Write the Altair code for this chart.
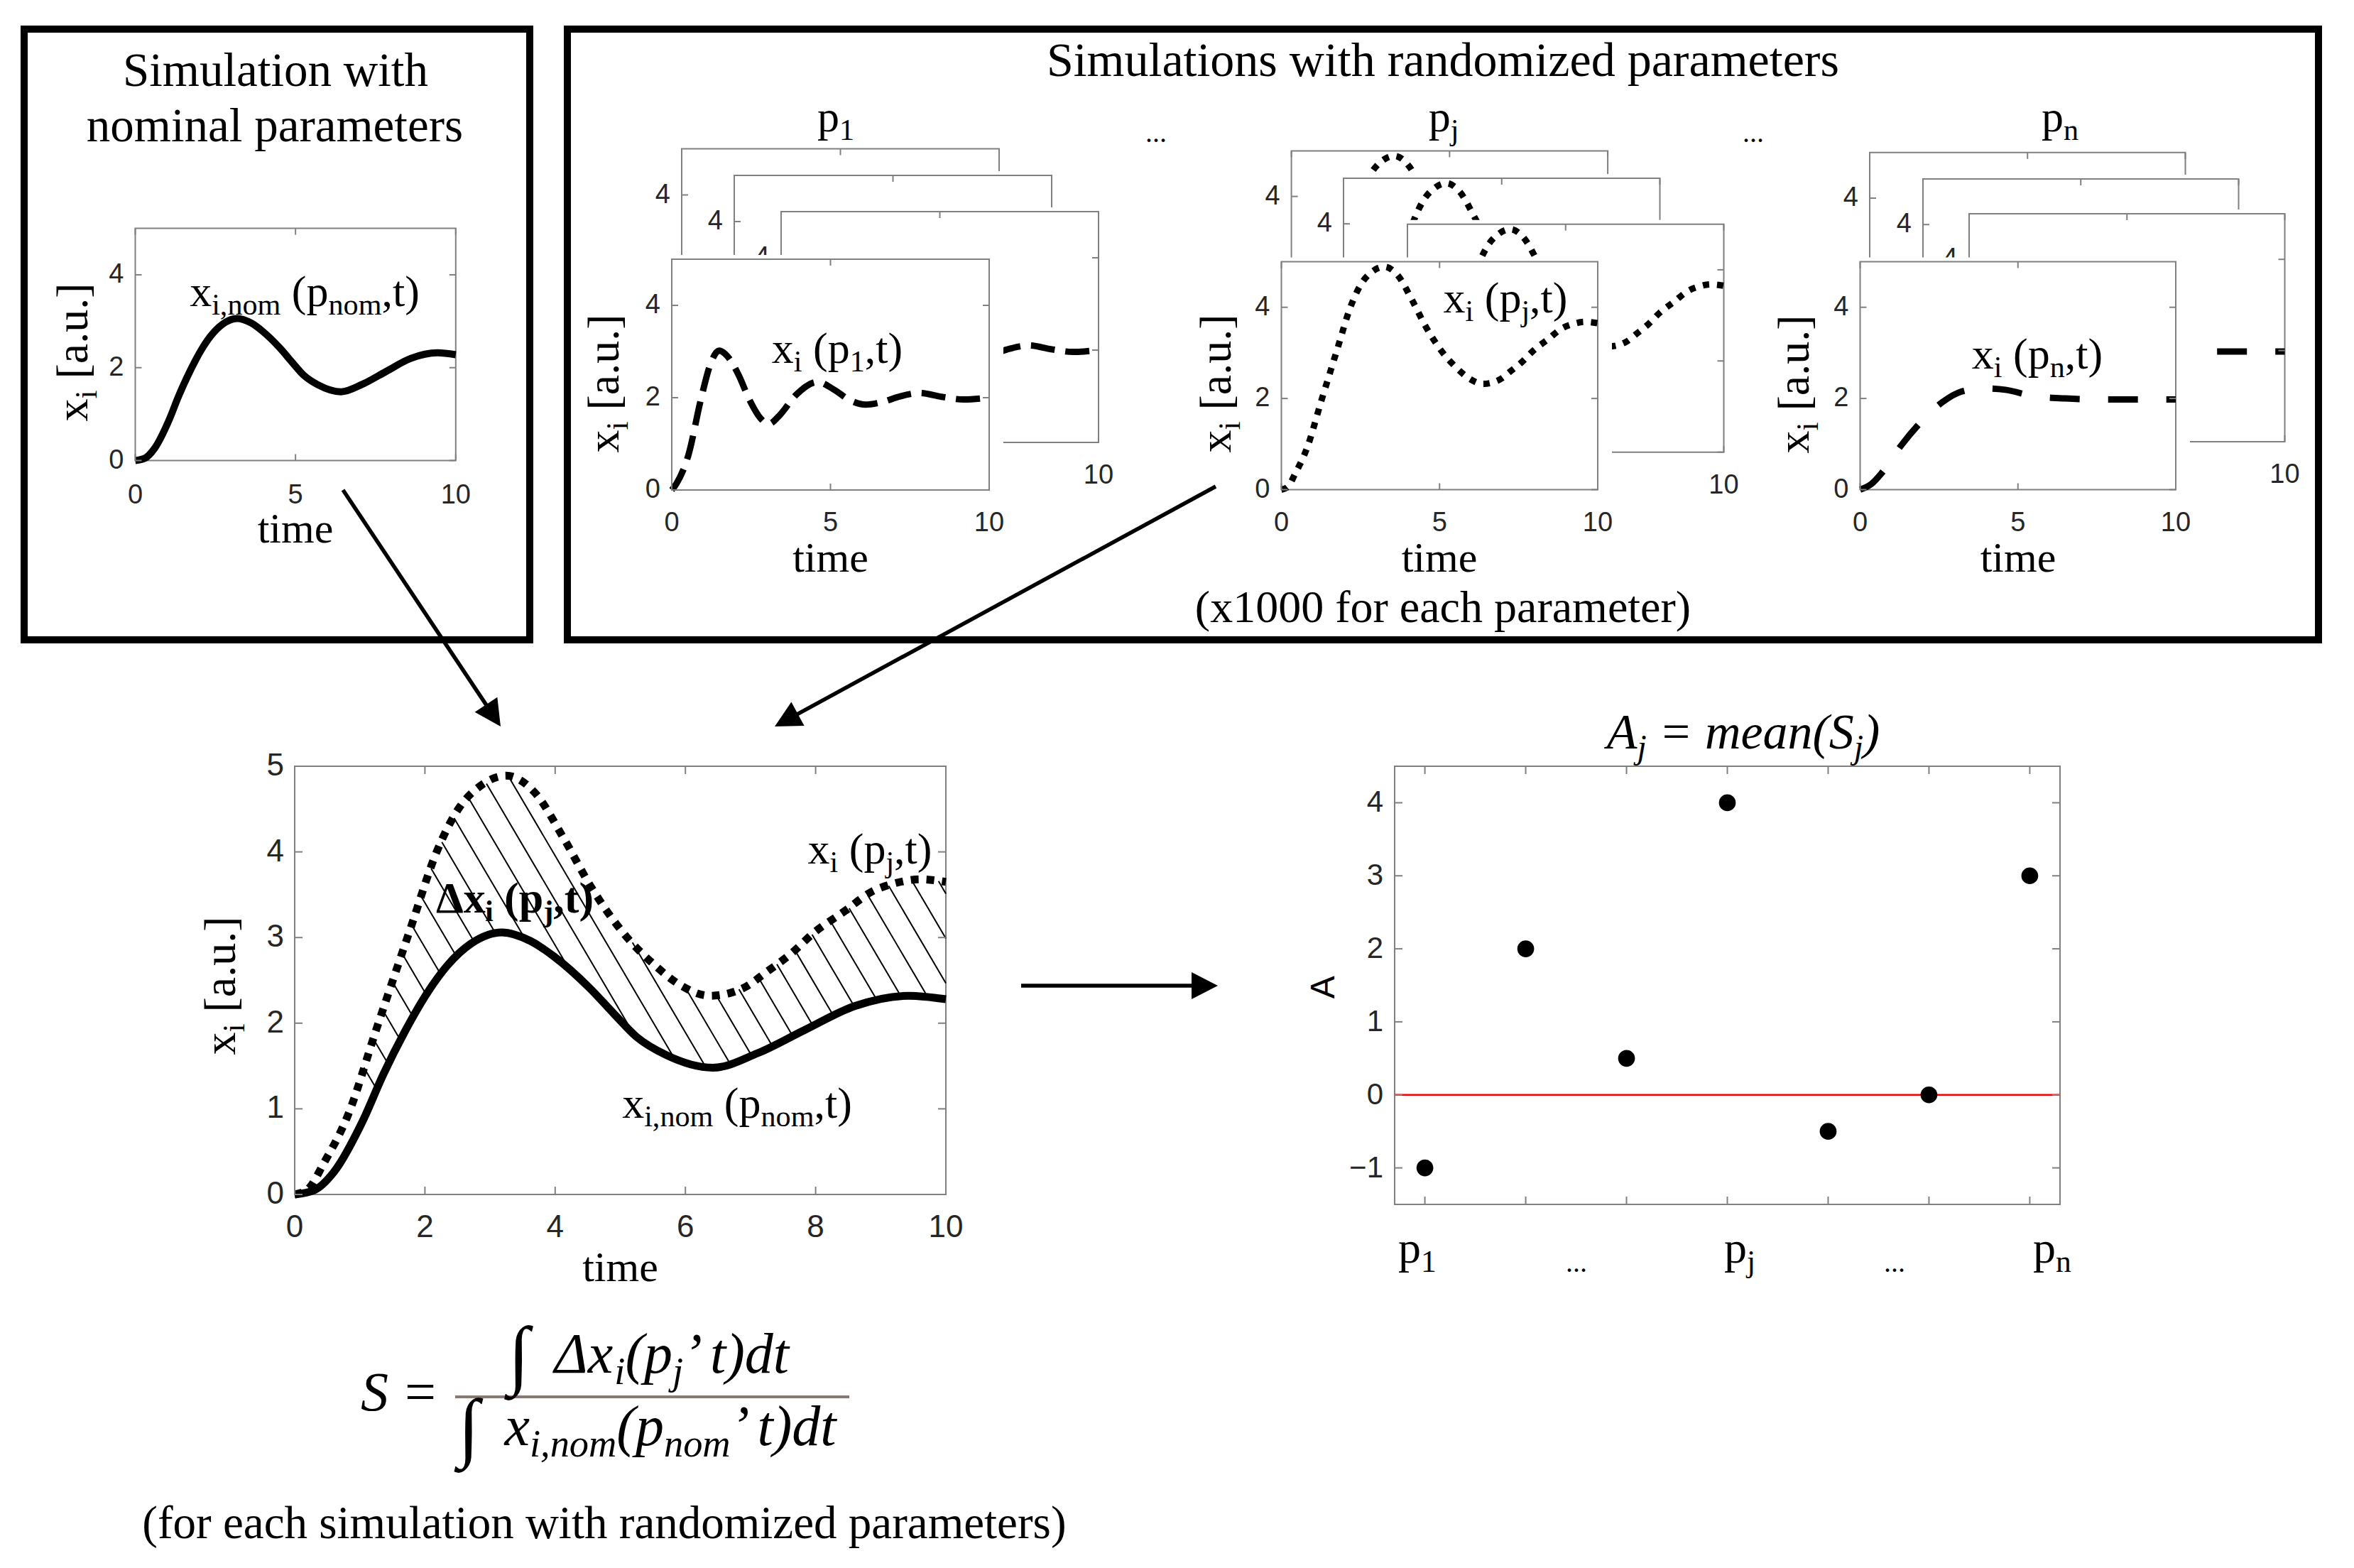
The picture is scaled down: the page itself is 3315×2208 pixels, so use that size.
import altair as alt
import pandas as pd
import numpy as np

# ---------------- values ----------------
time_nom = [0, 0.3, 0.6, 1.04, 1.36, 1.69, 2.05, 2.34, 2.71, 3.18, 3.62, 3.98, 4.53, 4.89,
            5.25, 5.7, 6.42, 7.11, 7.83, 8.6, 9.43, 10]
x_nom = [0, 0.05, 0.26, 0.85, 1.40, 1.90, 2.37, 2.67, 2.93, 3.06, 2.96, 2.78, 2.41, 2.12,
         1.84, 1.63, 1.48, 1.65, 1.92, 2.20, 2.32, 2.28]

time_pj = [0, 0.2, 0.45, 0.82, 1.25, 1.78, 2.18, 2.53, 2.85, 3.25, 3.69, 4.13, 4.56, 5.05,
           5.54, 5.91, 6.38, 6.89, 7.25, 7.62, 7.98, 8.45, 8.85, 9.25, 9.6, 10]
x_pj = [0, 0.06, 0.37, 0.93, 1.92, 3.11, 4.0, 4.52, 4.77, 4.89, 4.69, 4.16, 3.58, 3.05,
        2.67, 2.45, 2.32, 2.41, 2.60, 2.81, 3.06, 3.31, 3.53, 3.64, 3.68, 3.65]

time_p1 = [0, 0.14, 0.53, 0.91, 1.23, 1.49, 1.75, 2.1, 2.45, 2.8, 3.05, 3.4, 3.9, 4.6, 5.1,
           5.6, 6.1, 6.6, 7.2, 7.8, 8.5, 9.2, 10]
x_p1 = [0, 0.13, 0.77, 1.94, 2.75, 3.02, 2.9, 2.5, 1.95, 1.55, 1.43, 1.62, 2.05, 2.34, 2.18,
        1.95, 1.85, 1.9, 2.03, 2.10, 2.02, 1.96, 2.0]

time_pn = [0, 0.35, 0.69, 1.29, 1.95, 2.61, 3.2, 3.9, 4.6, 5.5, 6.5, 7.5, 8.5, 9.5, 10]
x_pn = [0, 0.12, 0.37, 0.96, 1.5, 1.92, 2.15, 2.22, 2.19, 2.05, 2.0, 1.98, 1.98, 1.98, 1.98]

param_index = [1, 2, 3, 4, 5, 6, 7]
A_values = [-1, 2, 0.5, 4, -0.5, 0, 3]

small_xticks = [0, 5, 10]
small_yticks = [0, 2, 4]
big_xticks = [0, 2, 4, 6, 8, 10]
big_yticks = [0, 1, 2, 3, 4, 5]
A_yticks = [-1, 0, 1, 2, 3, 4]
A_ytick_labels = ["\u22121", "0", "1", "2", "3", "4"]

TITLE_NOM = ["Simulation with", "nominal parameters"]
TITLE_RAND = "Simulations with randomized parameters"
NOTE_RAND = "(x1000 for each parameter)"
NOTE_S = "(for each simulation with randomized parameters)"

# ---------------- layout ----------------
OFF = 8
W, H = 3290, 2185
FRAME = "#808080"
LAB = "#262626"
SERIF = "Liberation Serif"
SANS = "Liberation Sans"

NOM_FRAME = (190.5, 321.6, 641.8, 648.5)
BOT_FRAME = (415, 1079, 1332, 1682)
SCAT_FRAME = (1964, 1079, 2901, 1696)
PANELS = [
    dict(front=(946, 365, 1393, 690), backs=[(960, 209.5), (1034, 247), (1100, 298)],
         t=time_p1, v=x_p1, width=9, dash=[34, 15]),
    dict(front=(1804.5, 368.5, 2250, 689.5), backs=[(1818.6, 212.4), (1892, 251), (1982, 315.7)],
         t=time_pj, v=x_pj, width=9, dash=[9, 11]),
    dict(front=(2619.5, 368.5, 3064, 689.5), backs=[(2633, 214.8), (2708, 252), (2773, 301)],
         t=time_pn, v=x_pn, width=9, dash=[42, 40]),
]


def make_fig(frame, xdom, ydom):
    L, T, R, B = frame
    return dict(L=L, T=T, R=R, B=B, xdom=list(xdom), ydom=list(ydom),
                sx=alt.Scale(domain=list(xdom), range=[L - OFF, R - OFF], nice=False, zero=False),
                sy=alt.Scale(domain=list(ydom), range=[B - OFF, T - OFF], nice=False, zero=False),
                ppx=(R - L) / (xdom[1] - xdom[0]), ppy=(B - T) / (ydom[1] - ydom[0]))


def XY(f):
    return dict(x=alt.X("x:Q", scale=f["sx"], axis=None), y=alt.Y("y:Q", scale=f["sy"], axis=None))


def XY2(f):
    d = XY(f)
    d.update(x2=alt.X2("x2"), y2=alt.Y2("y2"))
    return d


def rect(f, x, x2, y, y2, **mk):
    df = pd.DataFrame({"x": [x], "x2": [x2], "y": [y], "y2": [y2]})
    return alt.Chart(df).mark_rect(**mk).encode(**XY2(f))


def curve(f, t, v, width, dash=None):
    df = pd.DataFrame({"x": t, "y": v, "o": list(range(len(t)))})
    mk = dict(color="black", strokeWidth=width, interpolate="monotone", strokeCap="butt",
              strokeJoin="round")
    if dash:
        mk["strokeDash"] = dash
    return alt.Chart(df).mark_line(**mk).encode(order="o:Q", **XY(f))


def ticks(f, xt, yt, tl):
    x0, x1 = f["xdom"]
    y0, y1 = f["ydom"]
    dv, dt = tl / f["ppy"], tl / f["ppx"]
    rows = []
    for t in xt:
        rows += [(t, y0, t, y0 + dv), (t, y1, t, y1 - dv)]
    for v in yt:
        rows += [(x0, v, x0 + dt, v), (x1, v, x1 - dt, v)]
    df = pd.DataFrame(rows, columns=["x", "y", "x2", "y2"])
    return alt.Chart(df).mark_rule(color=FRAME, strokeWidth=2).encode(**XY2(f))


def xlabels(f, xt, size, dy):
    df = pd.DataFrame({"x": xt, "y": [f["ydom"][0]] * len(xt), "lab": [str(t) for t in xt]})
    return alt.Chart(df).mark_text(font=SANS, fontSize=size, color=LAB, align="center",
                                   baseline="middle", dy=dy).encode(text="lab:N", **XY(f))


def ylabels(f, yt, size, dx, labs=None):
    labs = labs or [str(v) for v in yt]
    df = pd.DataFrame({"x": [f["xdom"][0]] * len(yt), "y": yt, "lab": labs})
    return alt.Chart(df).mark_text(font=SANS, fontSize=size, color=LAB, align="right",
                                   baseline="middle", dx=dx).encode(text="lab:N", **XY(f))


groups = []

# ---- top-left nominal panel ----
fn = make_fig(NOM_FRAME, (0, 10), (0, 5))
groups.append(alt.layer(
    rect(fn, 0, 10, 5, 0, fill="white", stroke=FRAME, strokeWidth=2),
    curve(fn, time_nom, x_nom, 10),
    ticks(fn, small_xticks, small_yticks, 9),
    xlabels(fn, small_xticks, 38, 49),
    ylabels(fn, small_yticks, 38, -16),
))

# ---- stacked randomized panels (back copies are partly hidden by the front ones) ----
for P in PANELS:
    L, T, R, B = P["front"]
    pw, ph = R - L, B - T
    frames = [(bl, bt, bl + pw, bt + ph) for bl, bt in P["backs"]] + [P["front"]]
    for k, fr in enumerate(frames):
        front = k == len(frames) - 1
        f = make_fig(fr, (0, 10), (0, 5))
        ext = (140, 6, 20, 160) if front else (45, 6, 20, 60)
        layers = [
            rect(f, 0, 10, 5, 0, color="white", xOffset=-ext[0], yOffset=-ext[1],
                 x2Offset=ext[2], y2Offset=ext[3]),
            rect(f, 0, 10, 5, 0, fill="white", stroke=FRAME, strokeWidth=2),
            curve(f, P["t"], P["v"], P["width"], P["dash"]),
            ticks(f, small_xticks, small_yticks, 9),
        ]
        if front:
            layers += [xlabels(f, small_xticks, 38, 47), ylabels(f, small_yticks, 38, -16)]
        else:
            layers.append(ylabels(f, [4], 38, -16))
            if k == len(frames) - 2:
                layers.append(xlabels(f, [10], 38, 47))
        groups.append(alt.layer(*layers))

# ---- bottom plot with hatching ----
fb = make_fig(BOT_FRAME, (0, 10), (0, 5))
HATCH_SLOPE, HATCH_C0, HATCH_STEP = 1.7, 61.0, 63.0


def hatch_segments():
    L, T, R, B = BOT_FRAME
    ppt, ppv = (R - L) / 10, (B - T) / 5
    tg = np.linspace(0, 10, 4001)
    up = np.interp(tg, time_pj, x_pj)
    lo = np.interp(tg, time_nom, x_nom)
    px = L + tg * ppt
    pu, pl = B - up * ppv, B - lo * ppv
    cu, cl = HATCH_SLOPE * px - pu, HATCH_SLOPE * px - pl
    out = []
    c = HATCH_C0 + np.ceil((cl.min() - HATCH_C0) / HATCH_STEP) * HATCH_STEP
    while c <= cu.max():
        idx = np.flatnonzero((cl <= c) & (c <= cu))
        if idx.size:
            br = np.flatnonzero(np.diff(idx) > 1)
            for s, e in zip(np.r_[idx[0], idx[br + 1]], np.r_[idx[br], idx[-1]]):
                xa, xb = px[s], px[e]
                ya, yb = HATCH_SLOPE * xa - c, HATCH_SLOPE * xb - c
                if np.hypot(xb - xa, yb - ya) > 12 and tg[s] >= 1.0:
                    out.append(((xa - L) / ppt, (B - ya) / ppv, (xb - L) / ppt, (B - yb) / ppv))
        c += HATCH_STEP
    return pd.DataFrame(out, columns=["x", "y", "x2", "y2"])


hatch = alt.Chart(hatch_segments()).mark_rule(color="black", strokeWidth=2).encode(**XY2(fb))
groups.append(alt.layer(
    rect(fb, 0, 10, 5, 0, fill="white", stroke=FRAME, strokeWidth=2),
    hatch,
    curve(fb, time_nom, x_nom, 11),
    curve(fb, time_pj, x_pj, 11, [11, 11]),
    ticks(fb, big_xticks, big_yticks, 11),
    xlabels(fb, big_xticks, 44, 47),
    ylabels(fb, big_yticks, 44, -15),
))

# ---- scatter of A ----
fs = make_fig(SCAT_FRAME, (0.7, 7.3), (-1.5, 4.5))
zero_line = alt.Chart(pd.DataFrame({"x": [0.7], "x2": [7.3], "y": [0], "y2": [0]})).mark_rule(
    color="#ff0000", strokeWidth=2.5).encode(**XY2(fs))
pts = alt.Chart(pd.DataFrame({"x": param_index, "y": A_values})).mark_circle(
    size=560, color="black", opacity=1).encode(**XY(fs))
groups.append(alt.layer(
    rect(fs, 0.7, 7.3, 4.5, -1.5, fill="white", stroke=FRAME, strokeWidth=2),
    zero_line,
    pts,
    ticks(fs, param_index, A_yticks, 11),
    ylabels(fs, A_yticks, 42, -16, A_ytick_labels),
))

# ---------------- canvas: boxes, arrows, text ----------------
CXS = alt.Scale(domain=[OFF, W + OFF], range=[0, W], nice=False, zero=False)
CYS = alt.Scale(domain=[OFF, H + OFF], range=[0, H], nice=False, zero=False)


def CXY():
    return dict(x=alt.X("x:Q", scale=CXS, axis=None), y=alt.Y("y:Q", scale=CYS, axis=None))


canvas = []
boxes = pd.DataFrame({"x": [34, 799], "x2": [746, 3265], "y": [41, 41], "y2": [901, 901]})
canvas.append(alt.Chart(boxes).mark_rect(fill="white", fillOpacity=0, stroke="black",
                                         strokeWidth=10).encode(x2=alt.X2("x2"), y2=alt.Y2("y2"), **CXY()))

arrows = [(483, 690, 705, 1023), (1712, 685, 1091, 1023), (1438, 1388, 1715, 1388)]
HEAD = 37.0
shafts, heads = [], []
for x0, y0, x1, y1 in arrows:
    d = np.hypot(x1 - x0, y1 - y0)
    ux, uy = (x1 - x0) / d, (y1 - y0) / d
    shafts.append((x0, y0, x1 - ux * HEAD * 0.8, y1 - uy * HEAD * 0.8))
    ang = (np.degrees(np.arctan2(ux, -uy)) + 360) % 360
    heads.append((x1 - ux * HEAD / 2, y1 - uy * HEAD / 2, ang))
canvas.append(alt.Chart(pd.DataFrame(shafts, columns=["x", "y", "x2", "y2"])).mark_rule(
    color="black", strokeWidth=5.5).encode(x2=alt.X2("x2"), y2=alt.Y2("y2"), **CXY()))
canvas.append(alt.Chart(pd.DataFrame(heads, columns=["x", "y", "ang"])).mark_point(
    shape="M0,-1L1.03,1L-1.03,1Z", filled=True, color="black", opacity=1, size=HEAD ** 2,
    strokeWidth=0).encode(angle=alt.Angle("ang:Q", scale=None), **CXY()))

canvas.append(alt.Chart(pd.DataFrame({"x": [641], "x2": [1196], "y": [1967], "y2": [1967]})).mark_rule(
    color="#8a7874", strokeWidth=4).encode(x2=alt.X2("x2"), y2=alt.Y2("y2"), **CXY()))

# Times-compatible advance widths (per 1000 em) for placing sub-scripts
TIMES = {' ': 250, '(': 333, ')': 333, ',': 250, '.': 250, '[': 333, ']': 333, '=': 564,
         '0': 500, '1': 500, '2': 500, '3': 500, '4': 500, '5': 500, '6': 500, '7': 500,
         '8': 500, '9': 500, 'A': 722, 'S': 556, 'a': 444, 'b': 500, 'c': 444, 'd': 500,
         'e': 444, 'f': 333, 'g': 500, 'h': 500, 'i': 278, 'j': 278, 'k': 500, 'l': 278,
         'm': 778, 'n': 500, 'o': 500, 'p': 500, 'q': 500, 'r': 333, 's': 389, 't': 278,
         'u': 500, 'v': 500, 'w': 722, 'x': 500, 'y': 500, 'z': 444, '\u0394': 612,
         '\u222b': 350, '\u2019': 333}
TIMES_B = dict(TIMES, **{'p': 556, 'j': 333, 't': 333, 'i': 278, 'x': 500})
TIMES_I = dict(TIMES, **{'=': 675, 'A': 611, 'S': 500, 'a': 500, 'm': 722, 'x': 444})
TABLES = {"normal": TIMES, "bold": TIMES_B, "italic": TIMES_I}
text_rows = []


def rich(segs, c, base, size, style="normal", angle=0, font=SERIF, anchor="center",
         sub=0.68, drop=0.2):
    tab = TABLES[style]
    items = []
    for txt, kind in segs:
        if kind == "s":
            items.append((txt, size * sub, size * drop))
        elif kind == "b":
            items.append((txt, size * 1.35, size * 0.12))
        else:
            items.append((txt, size, 0.0))

    def wd(txt, fsz):
        return sum(tab.get(ch, 500) for ch in txt) / 1000.0 * fsz

    total = sum(wd(t, f) for t, f, _ in items)
    pos = -total / 2 if anchor == "center" else 0.0
    for txt, fsz, dd in items:
        lead = len(txt) - len(txt.lstrip(" "))
        pos += wd(" " * lead, fsz)
        core = txt.strip(" ")
        if core:
            if angle == 0:
                text_rows.append(dict(x=c + pos, y=base + dd, text=core, size=fsz,
                                      style=style, angle=0, font=font))
            else:
                text_rows.append(dict(x=base + dd, y=c - pos, text=core, size=fsz,
                                      style=style, angle=angle, font=font))
        pos += wd(txt.lstrip(" "), fsz)


def lbl(p):
    return [("x", "n"), ("i", "s"), (" (p", "n"), (p, "s"), (",t)", "n")]


LBL_NOM = [("x", "n"), ("i,nom", "s"), (" (p", "n"), ("nom", "s"), (",t)", "n")]
YTITLE = [("x", "n"), ("i", "s"), (" [a.u.]", "n")]

rich([(TITLE_NOM[0], "n")], 388, 121, 67)
rich([(TITLE_NOM[1], "n")], 387, 199, 67)
rich([(TITLE_RAND, "n")], 2032, 107, 68)
rich([(NOTE_RAND, "n")], 2032, 876, 64)
for cx, p in [(1177, "1"), (2033, "j"), (2901, "n")]:
    rich([("p", "n"), (p, "s")], cx, 185, 62)
for cx in (1628, 2469):
    rich([("...", "n")], cx, 200, 40)

rich(LBL_NOM, 429, 431, 62)
rich(lbl("1"), 1179, 511, 62)
rich(lbl("j"), 2120, 440, 62)
rich(lbl("n"), 2869, 519, 62)
rich(lbl("j"), 1225, 1216, 62)
rich([("\u0394x", "n"), ("i", "s"), (" (p", "n"), ("j", "s"), (",t)", "n")], 725, 1285, 62,
     style="bold")
rich(LBL_NOM, 1038, 1574, 62)

for cx, by in [(416, 764), (1169.5, 805), (2027, 805), (2842, 805), (873.5, 1804)]:
    rich([("time", "n")], cx, by, 60)
for cy, bx in [(496, 123), (540, 871), (540, 1733), (541, 2547), (1388, 331)]:
    rich(YTITLE, cy, bx, 64, angle=270)

rich([("A", "n")], 1389, 1879, 48, angle=270, font=SANS)
rich([("A", "n"), ("j", "s"), (" = mean(S", "n"), ("j", "s"), (")", "n")], 2455, 1054, 70,
     style="italic")
for cx, p in [(1996, "1"), (2450, "j"), (2890, "n")]:
    rich([("p", "n"), (p, "s")], cx, 1778, 64)
for cx in (2220, 2668):
    rich([("...", "n")], cx, 1791, 40)

rich([("S", "n")], 508, 1986, 78, style="italic", anchor="left")
rich([("=", "n")], 592, 1986, 78)
rich([("\u222b ", "b"), ("\u0394x", "n"), ("i", "s"), ("(p", "n"), ("j", "s"), ("\u2019 t)dt", "n")],
     918, 1933, 80, style="italic")
rich([("\u222b ", "b"), ("x", "n"), ("i,nom", "s"), ("(p", "n"), ("nom", "s"), ("\u2019 t)dt", "n")],
     916, 2035, 80, style="italic")
rich([(NOTE_S, "n")], 851, 2166, 65)

tdf = pd.DataFrame(text_rows)
for (font, style, angle), sub in tdf.groupby(["font", "style", "angle"]):
    canvas.append(alt.Chart(sub.reset_index(drop=True)).mark_text(
        font=font, fontStyle="italic" if style == "italic" else "normal",
        fontWeight="bold" if style == "bold" else "normal", align="left",
        baseline="alphabetic", angle=float(angle), color="black").encode(
        text="text:N", size=alt.Size("size:Q", scale=None), **CXY()))

groups.append(alt.layer(*canvas))

chart = alt.layer(*groups).resolve_scale(x="independent", y="independent").properties(
    width=W, height=H, padding=0, background="white",
    autosize=alt.AutoSizeParams(type="none")).configure_view(strokeWidth=0)

chart.save("out.html", embed_options={"renderer": "svg", "actions": False})
